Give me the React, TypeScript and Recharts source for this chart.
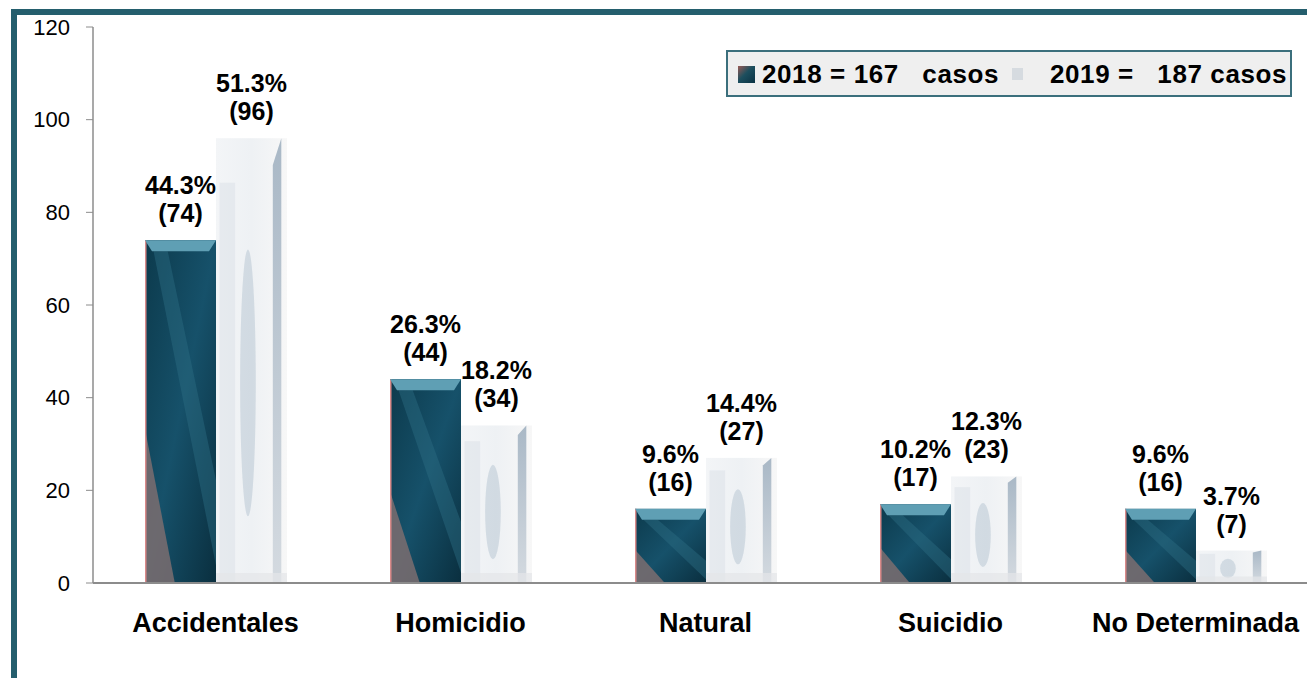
import React from 'react';
import { BarChart, Bar, XAxis, YAxis, Legend, LabelList } from 'recharts';

const categories = ['Accidentales', 'Homicidio', 'Natural', 'Suicidio', 'No Determinada'];
const casos2018 = [74, 44, 16, 17, 16];
const casos2019 = [96, 34, 27, 23, 7];
const pct2018 = ['44.3%', '26.3%', '9.6%', '10.2%', '9.6%'];
const pct2019 = ['51.3%', '18.2%', '14.4%', '12.3%', '3.7%'];
const yTicks = [0, 20, 40, 60, 80, 100, 120];
const seriesNames = ['2018 = 167   casos', '2019 =   187 casos'];

// boundaries between categories, used for the small ticks under the axis
const edgeTicks = categories.map((_, i) => i).concat(categories.length);

const data = categories.map((name, i) => ({
  name,
  pos: i + 0.5,
  y2018: casos2018[i],
  y2019: casos2019[i],
}));

const font = '"Liberation Sans", Arial, sans-serif';
const axisGray = '#8c8c8c';

const Shape2018 = (props: any) => {
  const { x, y, width: w, height: h } = props;
  if (!h || h <= 0) return null;
  const cap = 11;
  return (
    <g>
      <rect x={x} y={y} width={w} height={h} fill="url(#dark2018)" />
      <polygon
        points={`${x + w * 0.12},${y + cap} ${x + w * 0.32},${y + cap} ${x + w},${y + h * 0.7} ${x + w},${y + h * 0.95}`}
        fill="#2d6d82"
        opacity={0.45}
      />
      <polygon
        points={`${x},${y + h * 0.55} ${x},${y + h} ${x + w * 0.42},${y + h}`}
        fill="#7b6d70"
        opacity={0.85}
      />
      <line x1={x + 0.75} y1={y} x2={x + 0.75} y2={y + h} stroke="#d98a8a" strokeWidth={1.5} />
      <polygon
        points={`${x},${y} ${x + w},${y} ${x + w - 7},${y + cap} ${x + 7},${y + cap}`}
        fill="#5f9fb4"
      />
    </g>
  );
};

const Shape2019 = (props: any) => {
  const { x, y, width: w, height: h } = props;
  if (!h || h <= 0) return null;
  return (
    <g>
      <rect x={x} y={y} width={w} height={h} fill="url(#light2019)" />
      <rect x={x + w * 0.05} y={y + h * 0.1} width={w * 0.22} height={h * 0.9} fill="#dde3ea" opacity={0.6} />
      <ellipse cx={x + w * 0.45} cy={y + h * 0.55} rx={w * 0.11} ry={h * 0.3} fill="#8ea5ba" opacity={0.3} />
      <polygon
        points={`${x + w * 0.8},${y + h * 0.06} ${x + w * 0.92},${y} ${x + w * 0.92},${y + h} ${x + w * 0.8},${y + h}`}
        fill="url(#stripe2019)"
      />
      <rect x={x} y={y + h - Math.min(10, h * 0.2)} width={w} height={Math.min(10, h * 0.2)} fill="#e4e6e8" opacity={0.7} />
    </g>
  );
};

const makeLabel = (pcts: string[]) => (props: any) => {
  const { x, y, width, index, value } = props;
  const cx = x + width / 2;
  return (
    <text x={cx} y={y - 46} textAnchor="middle" fontSize={25} fontWeight="bold" fill="#000" fontFamily={font}>
      <tspan x={cx}>{pcts[index]}</tspan>
      <tspan x={cx} dy={28}>({value})</tspan>
    </text>
  );
};

const legendIconLeft = [10, 284];
const legendTextLeft = [34, 322];

const renderLegend = (props: any) => {
  const items = props.payload || [];
  return (
    <div
      style={{
        position: 'relative',
        boxSizing: 'border-box',
        width: 566,
        height: 47,
        background: '#efefef',
        border: '2px solid #3b6f7c',
        fontFamily: font,
        fontSize: 26,
        fontWeight: 'bold',
        letterSpacing: 0.6,
        color: '#000',
        whiteSpace: 'pre',
      }}
    >
      {items.map((p: any, i: number) => (
        <React.Fragment key={i}>
          <span
            style={{
              position: 'absolute',
              left: legendIconLeft[i],
              top: i === 0 ? 14 : 16,
              width: i === 0 ? 17 : 11,
              height: i === 0 ? 17 : 12,
              background: i === 0 ? 'linear-gradient(135deg, #9a5a55, #1d4f5e 45%, #0b3344)' : '#d6dbe0',
            }}
          />
          <span style={{ position: 'absolute', left: legendTextLeft[i], top: 7, lineHeight: '30px' }}>{p.value}</span>
        </React.Fragment>
      ))}
    </div>
  );
};

export default function App() {
  return (
    <div style={{ position: 'absolute', left: 0, top: 0, width: 1307, height: 678, overflow: 'hidden', background: '#fff' }}>
      <div
        style={{
          position: 'absolute',
          left: 11,
          top: 9,
          width: 1296,
          height: 669,
          boxSizing: 'border-box',
          borderLeft: '6px solid #245e6d',
          borderTop: '6px solid #245e6d',
        }}
      />
      <div style={{ position: 'absolute', left: 0, top: 0 }}>
        <BarChart
          width={1330}
          height={678}
          data={data}
          barGap={0}
          barSize={71}
          margin={{ top: 27, right: 12, left: 20, bottom: 34 }}
          style={{ fontFamily: font }}
        >
          <defs>
            <linearGradient id="dark2018" x1="0" y1="0" x2="1" y2="1">
              <stop offset="0%" stopColor="#0c3a4c" />
              <stop offset="50%" stopColor="#16516a" />
              <stop offset="100%" stopColor="#0a2f3f" />
            </linearGradient>
            <linearGradient id="light2019" x1="0" y1="0" x2="1" y2="0">
              <stop offset="0%" stopColor="#f3f5f7" />
              <stop offset="50%" stopColor="#eef1f4" />
              <stop offset="100%" stopColor="#f7f7f7" />
            </linearGradient>
            <linearGradient id="stripe2019" x1="0" y1="0" x2="0" y2="1">
              <stop offset="0%" stopColor="#a9b8c6" />
              <stop offset="100%" stopColor="#d4dae0" />
            </linearGradient>
          </defs>
          <XAxis
            xAxisId="names"
            dataKey="name"
            axisLine={false}
            tickLine={false}
            tickSize={6}
            tickMargin={23}
            height={60}
            interval={0}
            tick={{ fontSize: 27, fontWeight: 'bold', fill: '#000' }}
          />
          <XAxis
            xAxisId="axisEdges"
            type="number"
            dataKey="pos"
            domain={[0, categories.length]}
            ticks={edgeTicks}
            tick={false}
            tickSize={7}
            height={1}
            axisLine={{ stroke: axisGray, strokeWidth: 2 }}
            tickLine={{ stroke: axisGray }}
          />
          <YAxis
            domain={[0, 120]}
            ticks={yTicks}
            interval={0}
            width={73}
            tickSize={7}
            tickMargin={16}
            axisLine={{ stroke: axisGray, strokeWidth: 1.5 }}
            tickLine={{ stroke: axisGray }}
            tick={{ fontSize: 22, fill: '#000' }}
          />
          <Legend
            content={renderLegend}
            layout="horizontal"
            verticalAlign="middle"
            align="center"
            wrapperStyle={{ position: 'absolute', left: 726, top: 50, width: 566 }}
          />
          <Bar xAxisId="names" dataKey="y2018" name={seriesNames[0]} fill="#16516a" shape={<Shape2018 />} isAnimationActive={false}>
            <LabelList dataKey="y2018" content={makeLabel(pct2018)} />
          </Bar>
          <Bar xAxisId="names" dataKey="y2019" name={seriesNames[1]} fill="#e6ebf0" shape={<Shape2019 />} isAnimationActive={false}>
            <LabelList dataKey="y2019" content={makeLabel(pct2019)} />
          </Bar>
        </BarChart>
      </div>
    </div>
  );
}
